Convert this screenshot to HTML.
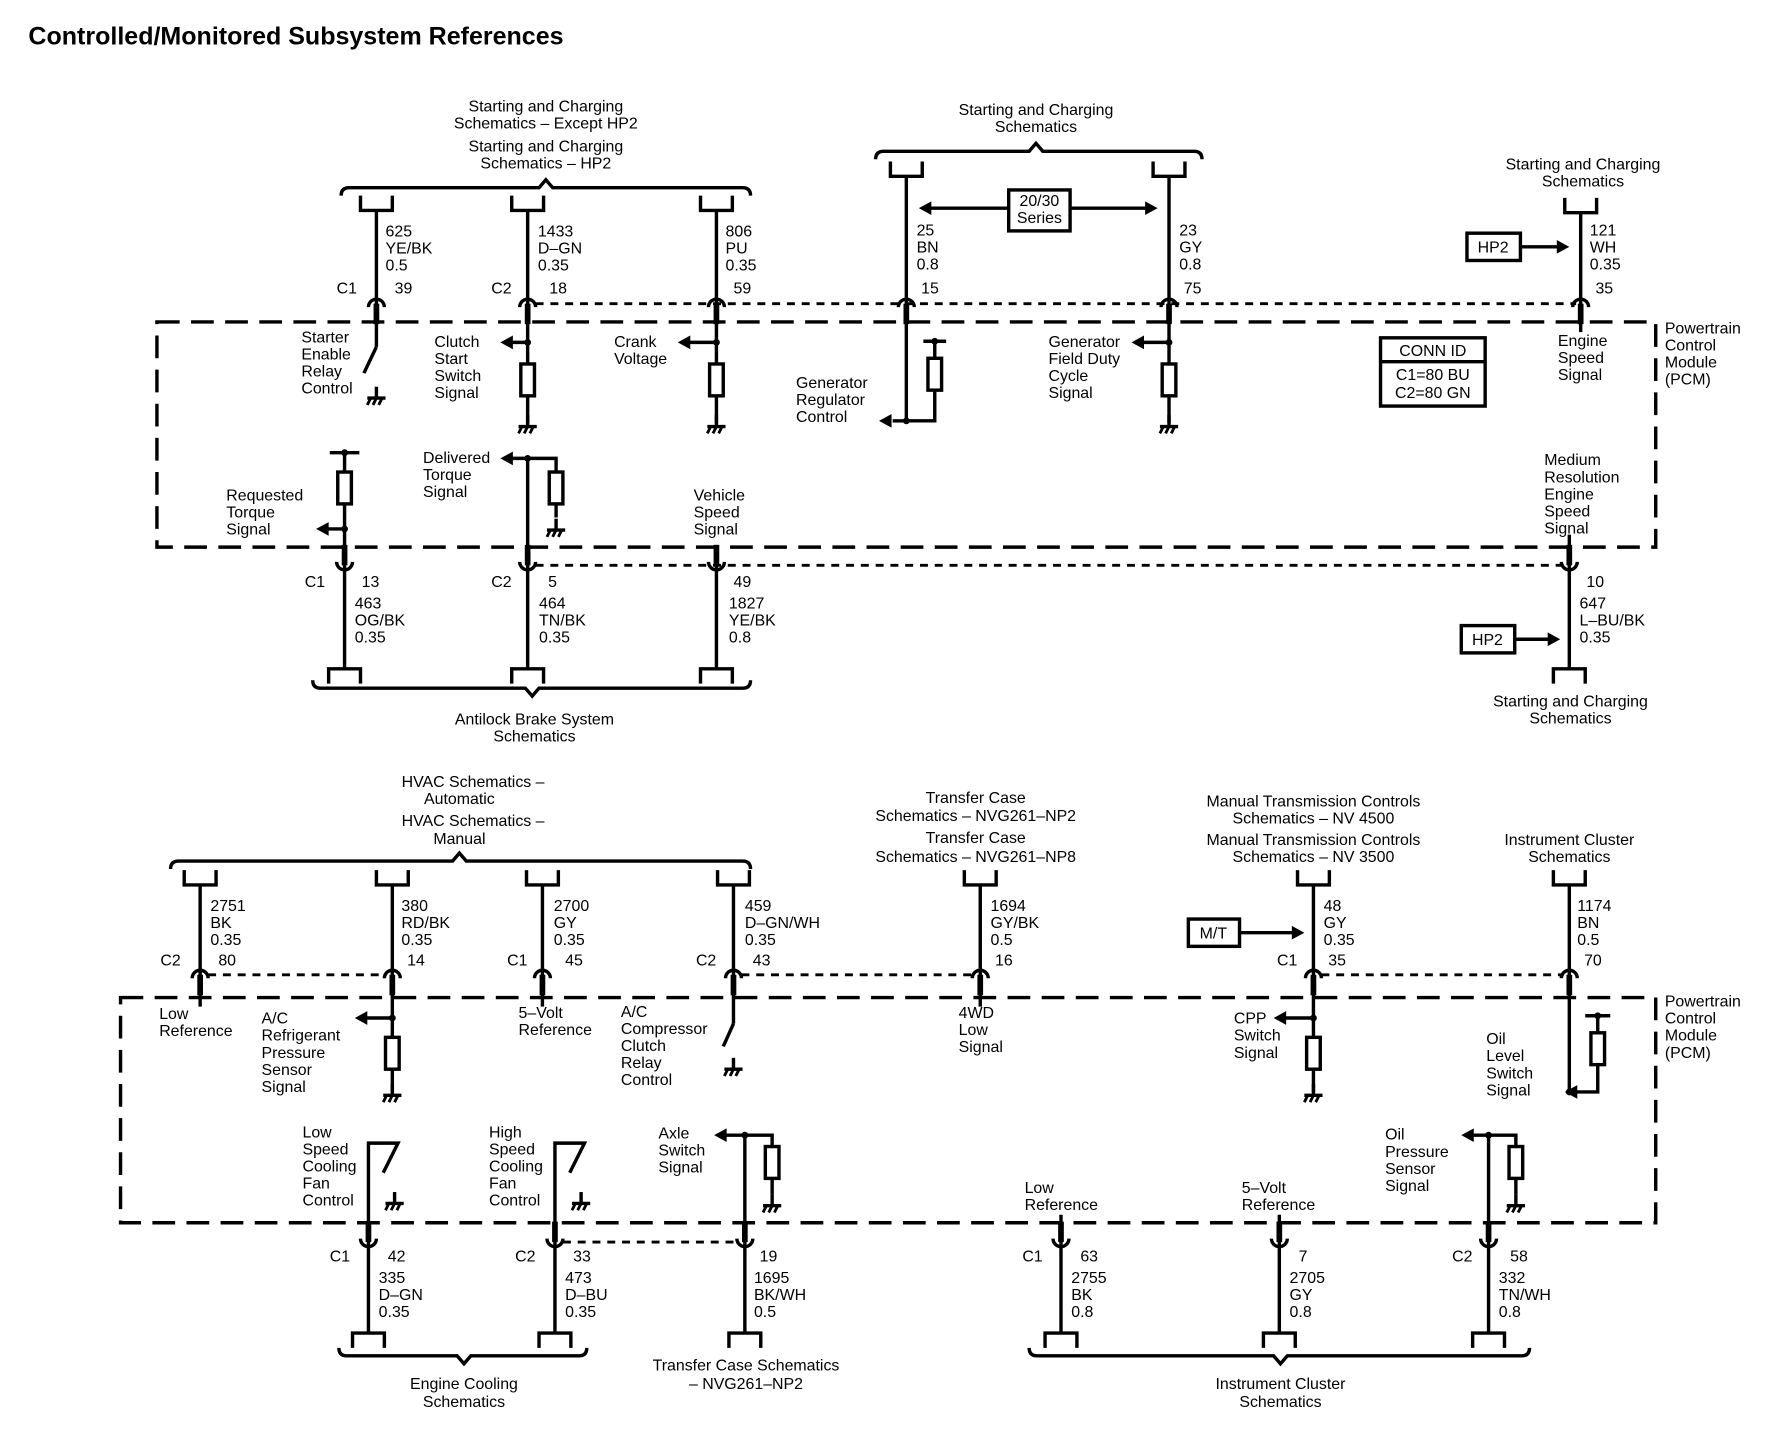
<!DOCTYPE html>
<html><head><meta charset="utf-8"><style>
html,body{margin:0;padding:0;background:#fff;}
svg{display:block}
text{font-family:"Liberation Sans",sans-serif;font-size:14px;fill:#000}
.m{text-anchor:middle}
</style></head><body>
<svg width="1774" height="1440" viewBox="0 0 1560 1266" preserveAspectRatio="none" xmlns="http://www.w3.org/2000/svg">
<defs>
<g id="gnd"><line x1="0" y1="0" x2="0" y2="-10" stroke="#000" stroke-width="3"/><line x1="-8" y1="0" x2="8" y2="0" stroke="#000" stroke-width="3"/><path d="M-5 0 L-8 6 M0 0 L-3 6 M5 0 L2 6" stroke="#000" stroke-width="2.5" fill="none"/></g>
<g id="res"><rect x="-6" y="0" width="12" height="28" fill="#fff" stroke="#000" stroke-width="3"/></g>
<g id="arL"><polygon points="0,0 11,-6 11,6" fill="#000"/></g>
<g id="ctop"><path d="M-14 -13 V0 H14 V-13" fill="none" stroke="#000" stroke-width="3"/></g>
<g id="cbot"><path d="M-14 13 V0 H14 V13" fill="none" stroke="#000" stroke-width="3"/></g>
<g id="pinT"><path d="M-7 6 A7 7 0 0 1 7 6" fill="none" stroke="#000" stroke-width="3"/><rect x="-2.5" y="3" width="5" height="18" fill="#000"/></g>
<g id="pinB"><path d="M-7 -6 A7 7 0 0 0 7 -6" fill="none" stroke="#000" stroke-width="3"/><rect x="-2.5" y="-21" width="5" height="18" fill="#000"/></g>
</defs>
<text x="25" y="39" style="font-size:22px;font-weight:bold">Controlled/Monitored Subsystem References</text>

<g stroke="#000" stroke-width="3" fill="none">
<rect x="138" y="283" width="1318" height="198" stroke-dasharray="20,10"/>
<rect x="106" y="877" width="1350" height="198" stroke-dasharray="20,10"/>
<line x1="471" y1="267" x2="1386" y2="267" stroke-width="2.5" stroke-dasharray="7,6"/>
<line x1="471" y1="497" x2="1376" y2="497" stroke-width="2.5" stroke-dasharray="7,6"/>
<line x1="183" y1="857" x2="340" y2="857" stroke-width="2.5" stroke-dasharray="7,6"/>
<line x1="652" y1="857" x2="857" y2="857" stroke-width="2.5" stroke-dasharray="7,6"/>
<line x1="1162" y1="857" x2="1375" y2="857" stroke-width="2.5" stroke-dasharray="7,6"/>
<line x1="495" y1="1092" x2="650" y2="1092" stroke-width="2.5" stroke-dasharray="7,6"/>
<path d="M300 172 Q300 165 307 165 H474 L480 158 L486 165 H653 Q660 165 660 172"/>
<path d="M770 140 Q770 133 777 133 H905 L911 126 L917 133 H1050 Q1057 133 1057 140"/>
<path d="M275 598 Q275 605 282 605 H462 L468 612 L474 605 H653 Q660 605 660 598"/>
<path d="M150 764 Q150 757 157 757 H398 L404 750 L410 757 H653 Q660 757 660 764"/>
<path d="M298 1185 Q298 1192 305 1192 H402 L408 1199 L414 1192 H509 Q516 1192 516 1185"/>
<path d="M905 1185 Q905 1192 912 1192 H1120 L1126 1199 L1132 1192 H1338 Q1345 1192 1345 1185"/>
<line x1="331" y1="185" x2="331" y2="305"/>
<line x1="464" y1="185" x2="464" y2="372"/>
<line x1="630" y1="185" x2="630" y2="372"/>
<line x1="797" y1="155" x2="797" y2="370"/>
<line x1="1028" y1="155" x2="1028" y2="372"/>
<line x1="1390" y1="187" x2="1390" y2="292"/>
<line x1="331" y1="305" x2="320" y2="328"/>
<line x1="464" y1="301" x2="448" y2="301"/>
<line x1="630" y1="301" x2="606" y2="301"/>
<line x1="797" y1="370" x2="785" y2="370"/>
<path d="M797 370 H822 V300 M812 300 H832"/>
<line x1="1028" y1="301" x2="1005" y2="301"/>
<line x1="818" y1="183" x2="887" y2="183"/>
<line x1="941" y1="183" x2="1008" y2="183"/>
<rect x="887" y="167" width="54" height="36"/>
<rect x="1290" y="205" width="47" height="24"/>
<line x1="1337" y1="217" x2="1370" y2="217"/>
<rect x="1214" y="297" width="92" height="60"/>
<line x1="1214" y1="318" x2="1306" y2="318"/>
<path d="M303 490 V398 M290 398 H316"/>
<line x1="303" y1="465" x2="288" y2="465"/>
<path d="M464 490 V403 H450 M464 403 H489 V455"/>
<line x1="630" y1="490" x2="630" y2="588"/>
<line x1="303" y1="490" x2="303" y2="588"/>
<line x1="464" y1="490" x2="464" y2="588"/>
<line x1="1380" y1="470" x2="1380" y2="588"/>
<rect x="1285" y="550" width="47" height="24"/>
<line x1="1332" y1="562" x2="1362" y2="562"/>
<line x1="176" y1="778" x2="176" y2="885"/>
<line x1="345" y1="778" x2="345" y2="960"/>
<line x1="477" y1="778" x2="477" y2="885"/>
<line x1="645" y1="778" x2="645" y2="900"/>
<line x1="645" y1="900" x2="636" y2="920"/>
<line x1="862" y1="778" x2="862" y2="885"/>
<line x1="1155" y1="778" x2="1155" y2="960"/>
<line x1="1380" y1="778" x2="1380" y2="960"/>
<line x1="345" y1="895" x2="322" y2="895"/>
<line x1="1155" y1="895" x2="1130" y2="895"/>
<rect x="1045" y="808" width="45" height="24"/>
<line x1="1090" y1="820" x2="1137" y2="820"/>
<path d="M1380 960 H1405 V893 M1394 893 H1416"/>
<line x1="1380" y1="960" x2="1386" y2="960"/>
<path d="M324 1172 V1005 H350 L337 1031"/>
<path d="M488 1172 V1005 H514 L501 1031"/>
<path d="M655 1172 V998 H638 M655 998 H679 V1050"/>
<line x1="933" y1="1068" x2="933" y2="1172"/>
<line x1="1125" y1="1068" x2="1125" y2="1172"/>
<path d="M1309 1172 V998 H1295 M1309 998 H1333 V1050"/>
</g>
<g fill="#000">
<circle cx="464" cy="301" r="3"/><circle cx="630" cy="301" r="3"/><circle cx="797" cy="370" r="3"/><circle cx="822" cy="300" r="3"/><circle cx="1028" cy="301" r="3"/>
<circle cx="303" cy="398" r="3"/><circle cx="303" cy="465" r="3"/><circle cx="464" cy="403" r="3"/>
<circle cx="345" cy="895" r="3"/><circle cx="1155" cy="895" r="3"/><circle cx="1380" cy="960" r="3"/><circle cx="1405" cy="893" r="3"/>
<circle cx="655" cy="998" r="3"/><circle cx="1309" cy="998" r="3"/>
</g>
<use href="#res" x="464" y="320"/><use href="#res" x="630" y="320"/><use href="#res" x="822" y="315"/><use href="#res" x="1028" y="320"/>
<use href="#res" x="303" y="415"/><use href="#res" x="489" y="415"/>
<use href="#res" x="345" y="912"/><use href="#res" x="1155" y="912"/><use href="#res" x="1405" y="908"/>
<use href="#res" x="679" y="1008"/><use href="#res" x="1333" y="1008"/>
<use href="#gnd" x="331" y="350"/><use href="#gnd" x="464" y="375"/><use href="#gnd" x="630" y="375"/><use href="#gnd" x="1028" y="375"/>
<use href="#gnd" x="489" y="466"/><use href="#gnd" x="345" y="963"/><use href="#gnd" x="645" y="940"/><use href="#gnd" x="1155" y="963"/>
<use href="#gnd" x="347" y="1058"/><use href="#gnd" x="511" y="1058"/><use href="#gnd" x="679" y="1060"/><use href="#gnd" x="1333" y="1060"/>
<use href="#arL" x="440" y="301"/><use href="#arL" x="596" y="301"/><use href="#arL" x="773" y="370"/><use href="#arL" x="995" y="301"/>
<use href="#arL" x="808" y="183"/><g transform="translate(1018,183) scale(-1,1)"><use href="#arL"/></g>
<g transform="translate(1380,217) scale(-1,1)"><use href="#arL"/></g>
<use href="#arL" x="278" y="465"/><use href="#arL" x="440" y="403"/>
<g transform="translate(1372,562) scale(-1,1)"><use href="#arL"/></g>
<use href="#arL" x="312" y="895"/><use href="#arL" x="1120" y="895"/><use href="#arL" x="1376" y="960"/>
<g transform="translate(1147,820) scale(-1,1)"><use href="#arL"/></g>
<use href="#arL" x="628" y="998"/><use href="#arL" x="1285" y="998"/>
<use href="#ctop" x="331" y="185"/><use href="#ctop" x="464" y="185"/><use href="#ctop" x="630" y="185"/>
<use href="#ctop" x="797" y="155"/><use href="#ctop" x="1028" y="155"/><use href="#ctop" x="1390" y="187"/>
<use href="#cbot" x="303" y="588"/><use href="#cbot" x="464" y="588"/><use href="#cbot" x="630" y="588"/><use href="#cbot" x="1380" y="588"/>
<use href="#ctop" x="176" y="778"/><use href="#ctop" x="345" y="778"/><use href="#ctop" x="477" y="778"/><use href="#ctop" x="645" y="778"/>
<use href="#ctop" x="862" y="778"/><use href="#ctop" x="1155" y="778"/><use href="#ctop" x="1380" y="778"/>
<use href="#cbot" x="324" y="1172"/><use href="#cbot" x="488" y="1172"/><use href="#cbot" x="655" y="1172"/>
<use href="#cbot" x="933" y="1172"/><use href="#cbot" x="1125" y="1172"/><use href="#cbot" x="1309" y="1172"/>
<use href="#pinT" x="331" y="264"/><use href="#pinT" x="464" y="264"/><use href="#pinT" x="630" y="264"/><use href="#pinT" x="797" y="264"/><use href="#pinT" x="1028" y="264"/><use href="#pinT" x="1390" y="264"/>
<use href="#pinB" x="303" y="500"/><use href="#pinB" x="464" y="500"/><use href="#pinB" x="630" y="500"/><use href="#pinB" x="1380" y="500"/>
<use href="#pinT" x="176" y="854"/><use href="#pinT" x="345" y="854"/><use href="#pinT" x="477" y="854"/><use href="#pinT" x="645" y="854"/><use href="#pinT" x="862" y="854"/><use href="#pinT" x="1155" y="854"/><use href="#pinT" x="1380" y="854"/>
<use href="#pinB" x="324" y="1095"/><use href="#pinB" x="488" y="1095"/><use href="#pinB" x="655" y="1095"/><use href="#pinB" x="933" y="1095"/><use href="#pinB" x="1125" y="1095"/><use href="#pinB" x="1309" y="1095"/>

<text class="m" x="480" y="98">Starting and Charging</text>
<text class="m" x="480" y="113">Schematics – Except HP2</text>
<text class="m" x="480" y="133">Starting and Charging</text>
<text class="m" x="480" y="148">Schematics – HP2</text>
<text class="m" x="911" y="101">Starting and Charging</text>
<text class="m" x="911" y="116">Schematics</text>
<text class="m" x="1392" y="149">Starting and Charging</text>
<text class="m" x="1392" y="164">Schematics</text>
<text class="m" x="914" y="181">20/30</text><text class="m" x="914" y="196">Series</text>
<text class="m" x="1313" y="222">HP2</text>
<text x="339" y="208">625</text><text x="339" y="223">YE/BK</text><text x="339" y="238">0.5</text>
<text x="296" y="258">C1</text><text x="347" y="258">39</text>
<text x="473" y="208">1433</text><text x="473" y="223">D–GN</text><text x="473" y="238">0.35</text>
<text x="432" y="258">C2</text><text x="483" y="258">18</text>
<text x="638" y="208">806</text><text x="638" y="223">PU</text><text x="638" y="238">0.35</text>
<text x="645" y="258">59</text>
<text x="806" y="207">25</text><text x="806" y="222">BN</text><text x="806" y="237">0.8</text><text x="810" y="258">15</text>
<text x="1037" y="207">23</text><text x="1037" y="222">GY</text><text x="1037" y="237">0.8</text><text x="1041" y="258">75</text>
<text x="1398" y="207">121</text><text x="1398" y="222">WH</text><text x="1398" y="237">0.35</text><text x="1403" y="258">35</text>
<text x="1464" y="293">Powertrain</text><text x="1464" y="308">Control</text><text x="1464" y="323">Module</text><text x="1464" y="338">(PCM)</text>
<text x="265" y="301">Starter</text><text x="265" y="316">Enable</text><text x="265" y="331">Relay</text><text x="265" y="346">Control</text>
<text x="382" y="305">Clutch</text><text x="382" y="320">Start</text><text x="382" y="335">Switch</text><text x="382" y="350">Signal</text>
<text x="540" y="305">Crank</text><text x="540" y="320">Voltage</text>
<text x="700" y="341">Generator</text><text x="700" y="356">Regulator</text><text x="700" y="371">Control</text>
<text x="922" y="305">Generator</text><text x="922" y="320">Field Duty</text><text x="922" y="335">Cycle</text><text x="922" y="350">Signal</text>
<text class="m" x="1260" y="313">CONN ID</text><text class="m" x="1260" y="334">C1=80 BU</text><text class="m" x="1260" y="350">C2=80 GN</text>
<text x="1370" y="304">Engine</text><text x="1370" y="319">Speed</text><text x="1370" y="334">Signal</text>
<text x="199" y="440">Requested</text><text x="199" y="455">Torque</text><text x="199" y="470">Signal</text>
<text x="372" y="407">Delivered</text><text x="372" y="422">Torque</text><text x="372" y="437">Signal</text>
<text x="610" y="440">Vehicle</text><text x="610" y="455">Speed</text><text x="610" y="470">Signal</text>
<text x="1358" y="409">Medium</text><text x="1358" y="424">Resolution</text><text x="1358" y="439">Engine</text><text x="1358" y="454">Speed</text><text x="1358" y="469">Signal</text>
<text x="268" y="516">C1</text><text x="318" y="516">13</text>
<text x="432" y="516">C2</text><text x="482" y="516">5</text>
<text x="645" y="516">49</text><text x="1395" y="516">10</text>
<text x="312" y="535">463</text><text x="312" y="550">OG/BK</text><text x="312" y="565">0.35</text>
<text x="474" y="535">464</text><text x="474" y="550">TN/BK</text><text x="474" y="565">0.35</text>
<text x="641" y="535">1827</text><text x="641" y="550">YE/BK</text><text x="641" y="565">0.8</text>
<text x="1389" y="535">647</text><text x="1389" y="550">L–BU/BK</text><text x="1389" y="565">0.35</text>
<text class="m" x="1308" y="567">HP2</text>
<text class="m" x="470" y="637">Antilock Brake System</text><text class="m" x="470" y="652">Schematics</text>
<text class="m" x="1381" y="621">Starting and Charging</text><text class="m" x="1381" y="636">Schematics</text>

<text class="m" x="416" y="692">HVAC Schematics –</text><text class="m" x="404" y="707">Automatic</text>
<text class="m" x="416" y="726">HVAC Schematics –</text><text class="m" x="404" y="742">Manual</text>
<text class="m" x="858" y="706">Transfer Case</text><text class="m" x="858" y="722">Schematics – NVG261–NP2</text>
<text class="m" x="858" y="741">Transfer Case</text><text class="m" x="858" y="758">Schematics – NVG261–NP8</text>
<text class="m" x="1155" y="709">Manual Transmission Controls</text><text class="m" x="1155" y="724">Schematics – NV 4500</text>
<text class="m" x="1155" y="743">Manual Transmission Controls</text><text class="m" x="1155" y="758">Schematics – NV 3500</text>
<text class="m" x="1380" y="743">Instrument Cluster</text><text class="m" x="1380" y="758">Schematics</text>
<text x="185" y="801">2751</text><text x="185" y="816">BK</text><text x="185" y="831">0.35</text>
<text x="141" y="849">C2</text><text x="192" y="849">80</text>
<text x="353" y="801">380</text><text x="353" y="816">RD/BK</text><text x="353" y="831">0.35</text><text x="358" y="849">14</text>
<text x="487" y="801">2700</text><text x="487" y="816">GY</text><text x="487" y="831">0.35</text>
<text x="446" y="849">C1</text><text x="497" y="849">45</text>
<text x="655" y="801">459</text><text x="655" y="816">D–GN/WH</text><text x="655" y="831">0.35</text>
<text x="612" y="849">C2</text><text x="662" y="849">43</text>
<text x="871" y="801">1694</text><text x="871" y="816">GY/BK</text><text x="871" y="831">0.5</text><text x="875" y="849">16</text>
<text x="1164" y="801">48</text><text x="1164" y="816">GY</text><text x="1164" y="831">0.35</text>
<text x="1123" y="849">C1</text><text x="1168" y="849">35</text>
<text class="m" x="1067" y="825">M/T</text>
<text x="1387" y="801">1174</text><text x="1387" y="816">BN</text><text x="1387" y="831">0.5</text><text x="1393" y="849">70</text>
<text x="1464" y="885">Powertrain</text><text x="1464" y="900">Control</text><text x="1464" y="915">Module</text><text x="1464" y="930">(PCM)</text>
<text x="140" y="896">Low</text><text x="140" y="911">Reference</text>
<text x="230" y="900">A/C</text><text x="230" y="915">Refrigerant</text><text x="230" y="930">Pressure</text><text x="230" y="945">Sensor</text><text x="230" y="960">Signal</text>
<text x="456" y="895">5–Volt</text><text x="456" y="910">Reference</text>
<text x="546" y="894">A/C</text><text x="546" y="909">Compressor</text><text x="546" y="924">Clutch</text><text x="546" y="939">Relay</text><text x="546" y="954">Control</text>
<text x="843" y="895">4WD</text><text x="843" y="910">Low</text><text x="843" y="925">Signal</text>
<text x="1085" y="900">CPP</text><text x="1085" y="915">Switch</text><text x="1085" y="930">Signal</text>
<text x="1307" y="918">Oil</text><text x="1307" y="933">Level</text><text x="1307" y="948">Switch</text><text x="1307" y="963">Signal</text>
<text x="266" y="1000">Low</text><text x="266" y="1015">Speed</text><text x="266" y="1030">Cooling</text><text x="266" y="1045">Fan</text><text x="266" y="1060">Control</text>
<text x="430" y="1000">High</text><text x="430" y="1015">Speed</text><text x="430" y="1030">Cooling</text><text x="430" y="1045">Fan</text><text x="430" y="1060">Control</text>
<text x="579" y="1001">Axle</text><text x="579" y="1016">Switch</text><text x="579" y="1031">Signal</text>
<text x="901" y="1049">Low</text><text x="901" y="1064">Reference</text>
<text x="1092" y="1049">5–Volt</text><text x="1092" y="1064">Reference</text>
<text x="1218" y="1002">Oil</text><text x="1218" y="1017">Pressure</text><text x="1218" y="1032">Sensor</text><text x="1218" y="1047">Signal</text>
<text x="290" y="1109">C1</text><text x="341" y="1109">42</text>
<text x="453" y="1109">C2</text><text x="504" y="1109">33</text>
<text x="668" y="1109">19</text>
<text x="899" y="1109">C1</text><text x="950" y="1109">63</text>
<text x="1142" y="1109">7</text>
<text x="1277" y="1109">C2</text><text x="1328" y="1109">58</text>
<text x="333" y="1128">335</text><text x="333" y="1143">D–GN</text><text x="333" y="1158">0.35</text>
<text x="497" y="1128">473</text><text x="497" y="1143">D–BU</text><text x="497" y="1158">0.35</text>
<text x="663" y="1128">1695</text><text x="663" y="1143">BK/WH</text><text x="663" y="1158">0.5</text>
<text x="942" y="1128">2755</text><text x="942" y="1143">BK</text><text x="942" y="1158">0.8</text>
<text x="1134" y="1128">2705</text><text x="1134" y="1143">GY</text><text x="1134" y="1158">0.8</text>
<text x="1318" y="1128">332</text><text x="1318" y="1143">TN/WH</text><text x="1318" y="1158">0.8</text>
<text class="m" x="408" y="1221">Engine Cooling</text><text class="m" x="408" y="1237">Schematics</text>
<text class="m" x="656" y="1205">Transfer Case Schematics</text><text class="m" x="656" y="1221">– NVG261–NP2</text>
<text class="m" x="1126" y="1221">Instrument Cluster</text><text class="m" x="1126" y="1237">Schematics</text>
</svg>
</body></html>
